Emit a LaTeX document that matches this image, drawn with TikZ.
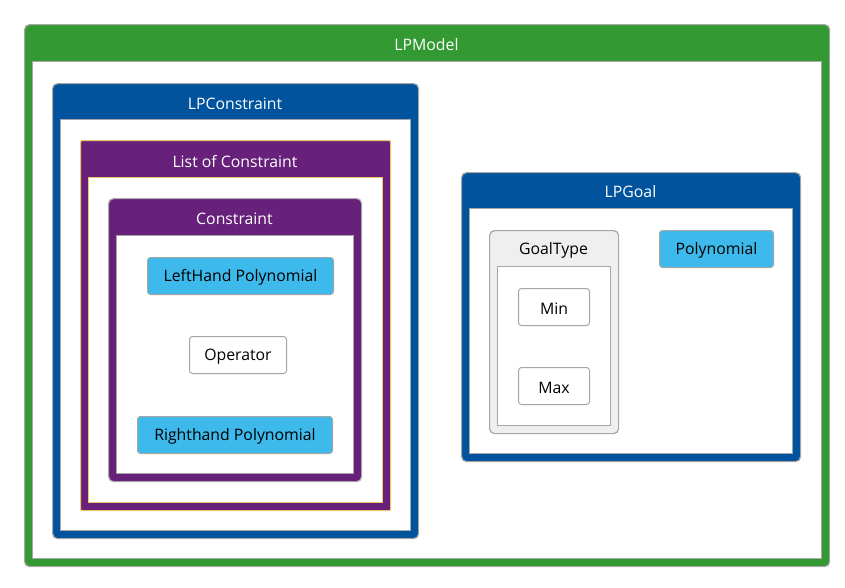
\documentclass[tikz,border=0pt]{standalone}
\usepackage{fontspec}
\setmainfont{Open Sans}
\begin{document}
\begin{tikzpicture}[x=1pt,y=-1pt,
  font=\fontsize{15.8}{18}\selectfont,
  frame/.style={draw=edgegray, line width=1.2pt, rounded corners=5pt, anchor=north west, inner sep=0pt},
  inner/.style={draw=edgegray, line width=1pt, fill=white, anchor=north west, inner sep=0pt},
  hdr/.style={text=white, inner sep=0pt, yshift=-1.5pt},
  lbl/.style={text=black, inner sep=0pt, yshift=-1.5pt},
  item/.style={draw=edgegray, line width=1pt, rounded corners=3pt, anchor=north west, inner sep=0pt, text=black},
]
\definecolor{edgegray}{HTML}{A6A6A6}
\definecolor{mgreen}{HTML}{339933}
\definecolor{mblue}{HTML}{00539C}
\definecolor{mpurple}{HTML}{68217A}
\definecolor{mcyan}{HTML}{3DBAEB}
\definecolor{myellow}{HTML}{E8C867}
\definecolor{lgray}{HTML}{EFEFEF}
\useasboundingbox (0,0) rectangle (845,587);
% LPModel
\node[frame, fill=mgreen, minimum width=805pt, minimum height=542pt] (model) at (24,24) {};
\node[inner, minimum width=789pt, minimum height=497pt] (modelin) at (32,61) {};
\node[hdr] (modelt) at (426.5,43) {LPModel};
% LPConstraint
\node[frame, fill=mblue, minimum width=366pt, minimum height=455pt] (cons) at (52,83) {};
\node[inner, minimum width=350pt, minimum height=411pt] (consin) at (60,119) {};
\node[hdr] (const) at (235,102) {LPConstraint};
% List of Constraint
\node[frame, draw=myellow, rounded corners=1pt, fill=mpurple, minimum width=310pt, minimum height=370pt] (list) at (80,140) {};
\node[inner, draw=myellow, minimum width=294pt, minimum height=325pt] (listin) at (88,177) {};
\node[hdr] (listt) at (235,160) {List of Constraint};
% Constraint
\node[frame, fill=mpurple, minimum width=253pt, minimum height=283pt] (c) at (108,198) {};
\node[inner, minimum width=237pt, minimum height=238pt] (cin) at (116,235) {};
\node[hdr] (ct) at (234.5,217) {Constraint};
\node[item, fill=mcyan, minimum width=186pt, minimum height=37pt] (lh) at (147,257) {};
\node[lbl] at (lh.center) {LeftHand Polynomial};
\node[item, fill=white, minimum width=97pt, minimum height=37pt] (op) at (189,336) {};
\node[lbl] at (op.center) {Operator};
\node[item, fill=mcyan, minimum width=195pt, minimum height=37pt] (rh) at (137,416) {};
\node[lbl] at (rh.center) {Righthand Polynomial};
% LPGoal
\node[frame, fill=mblue, minimum width=339pt, minimum height=289pt] (goal) at (461,172) {};
\node[inner, minimum width=323pt, minimum height=245pt] (goalin) at (469,208) {};
\node[hdr] (goalt) at (630.5,190) {LPGoal};
% GoalType
\node[frame, fill=lgray, minimum width=129pt, minimum height=203pt] (gt) at (489,230) {};
\node[inner, minimum width=113pt, minimum height=159pt] (gtin) at (497,266) {};
\node[lbl] (gtt) at (553.5,249) {GoalType};
\node[item, fill=white, minimum width=71pt, minimum height=37pt] (min) at (518,288) {};
\node[lbl] at (min.center) {Min};
\node[item, fill=white, minimum width=71pt, minimum height=37pt] (max) at (518,367) {};
\node[lbl] at (max.center) {Max};
\node[item, fill=mcyan, minimum width=114pt, minimum height=37pt] (poly) at (659,230) {};
\node[lbl] at (poly.center) {Polynomial};
\end{tikzpicture}
\end{document}
